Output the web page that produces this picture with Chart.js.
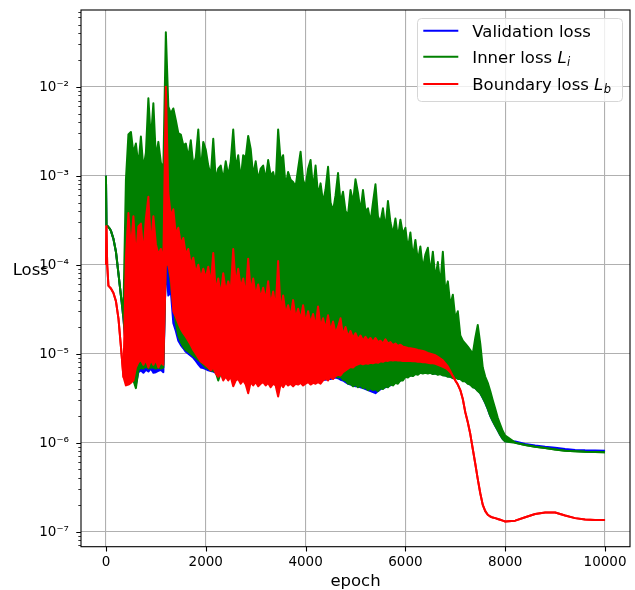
<!DOCTYPE html>
<html>
<head>
<meta charset="utf-8">
<title>Loss curves</title>
<script src="https://cdn.jsdelivr.net/npm/chart.js@4.4.1/dist/chart.umd.min.js"></script>
<style>
  html, body { margin: 0; padding: 0; background: #fff; }
  #wrap { position: relative; width: 635px; height: 590px; }
  canvas { display: block; }
</style>
</head>
<body>
<div id="wrap"><canvas id="loss" width="635" height="590"></canvas></div>
<script>
/* Training loss curves (validation / inner / boundary) on a log axis. */
"use strict";

// epoch grid shared by every series
const epochs = [
  0, 10, 25, 50, 75,
  100, 150, 200, 250, 300, 350, 400, 450, 500, 550,
  600, 650, 700, 750, 800, 850, 900, 950, 1000, 1050,
  1100, 1150, 1200, 1250, 1300, 1350, 1400, 1450, 1500, 1550,
  1600, 1650, 1700, 1750, 1800, 1850, 1900, 1950, 2000, 2050,
  2100, 2150, 2200, 2250, 2300, 2350, 2400, 2450, 2500, 2550,
  2600, 2650, 2700, 2750, 2800, 2850, 2900, 2950, 3000, 3050,
  3100, 3150, 3200, 3250, 3300, 3350, 3400, 3450, 3500, 3550,
  3600, 3650, 3700, 3750, 3800, 3850, 3900, 3950, 4000, 4050,
  4100, 4150, 4200, 4250, 4300, 4350, 4400, 4450, 4500, 4550,
  4600, 4650, 4700, 4750, 4800, 4850, 4900, 4950, 5000, 5050,
  5100, 5150, 5200, 5250, 5300, 5350, 5400, 5450, 5500, 5550,
  5600, 5650, 5700, 5750, 5800, 5850, 5900, 5950, 6000, 6050,
  6100, 6150, 6200, 6250, 6300, 6350, 6400, 6450, 6500, 6550,
  6600, 6650, 6700, 6750, 6800, 6850, 6900, 6950, 7000, 7050,
  7100, 7150, 7200, 7250, 7300, 7350, 7400, 7450, 7500, 7550,
  7600, 7650, 7700, 7750, 7800, 7850, 7900, 7950, 8000,
  8200, 8400, 8600, 8800, 9000, 9200, 9400, 9600, 9800, 10000,
];

// inner loss L_i : upper / lower envelope of the noisy trace
const innerHi = [
  1e-3, 2.8e-4, 2.75e-4, 2.65e-4, 2.55e-4,
  2.4e-4, 1.95e-4, 1.4e-4, 8e-5, 4.5e-5, 3e-5, 9e-4, 2.9e-3, 3.1e-3, 1.8e-3,
  2.3e-3, 1.3e-3, 2.75e-3, 1.2e-3, 1.8e-3, 7.4e-3, 2.5e-3, 6.5e-3, 1.6e-3, 2.4e-3,
  1.4e-3, 1.2e-3, 4.1e-2, 6e-3, 5e-3, 5.7e-3, 4.2e-3, 3e-3, 2.9e-3, 2.2e-3,
  2.3e-3, 1.6e-3, 2.5e-3, 1.3e-3, 1.6e-3, 3.3e-3, 1.1e-3, 2.4e-3, 1.95e-3, 1.3e-3,
  1e-3, 2.6e-3, 9e-4, 1.2e-3, 1.3e-3, 9e-4, 1.45e-3, 1e-3, 1.45e-3, 3.3e-3,
  1.2e-3, 1.7e-3, 9e-4, 1.7e-3, 1.6e-3, 2.8e-3, 2e-3, 1e-3, 1.45e-3, 9e-4,
  1.2e-3, 1.3e-3, 9e-4, 1.5e-3, 1e-3, 1.1e-3, 8e-4, 3.3e-3, 1.45e-3, 1.7e-3,
  7.6e-4, 1.1e-3, 9e-4, 8.5e-4, 7.5e-4, 1.2e-3, 1.86e-3, 9e-4, 7.5e-4, 1.2e-3,
  1.5e-3, 7e-4, 1.3e-3, 6e-4, 8.2e-4, 5e-4, 7e-4, 1.26e-3, 5e-4, 4e-4,
  6e-4, 1.07e-3, 5e-4, 6.6e-4, 4e-4, 3.6e-4, 6.9e-4, 5e-4, 9.1e-4, 6.4e-4,
  4e-4, 6.9e-4, 4e-4, 4.3e-4, 3e-4, 5e-4, 8e-4, 3.5e-4, 3e-4, 4.3e-4,
  2.5e-4, 5.2e-4, 3e-4, 2.2e-4, 3.3e-4, 2e-4, 3.2e-4, 2.2e-4, 2.6e-4, 1.5e-4,
  2.3e-4, 1.2e-4, 1.9e-4, 1.1e-4, 1.6e-4, 9e-5, 1.3e-4, 1.55e-4, 8e-5, 1.4e-4,
  7e-5, 1.07e-4, 6e-5, 1.4e-4, 5e-5, 6.5e-5, 3.5e-5, 4.6e-5, 2.5e-5, 3e-5,
  1.6e-5, 1.4e-5, 1.3e-5, 1.2e-5, 1.1e-5, 1e-5, 1.5e-5, 2.1e-5, 1.3e-5, 7e-6,
  5.5e-6, 4.7e-6, 3.8e-6, 3e-6, 2.4e-6, 1.9e-6, 1.6e-6, 1.35e-6, 1.2e-6,
  1e-6, 9.4e-7, 9e-7, 8.7e-7, 8.4e-7, 8.1e-7, 8e-7, 7.9e-7, 7.85e-7, 7.8e-7,
];
const innerLo = [
  1e-3, 2.8e-4, 2.75e-4, 2.65e-4, 2.55e-4,
  2.4e-4, 1.95e-4, 1.4e-4, 8e-5, 4.5e-5, 2.5e-5, 1.2e-5, 8.5e-6, 6.3e-6, 5e-6,
  4.1e-6, 6.5e-6, 7e-6, 6.8e-6, 7.2e-6, 6.8e-6, 7e-6, 7e-6, 6.8e-6, 7e-6,
  6.8e-6, 7e-6, 1e-4, 1e-4, 6e-5, 3.5e-5, 2.2e-5, 1.6e-5, 1.35e-5, 1.2e-5,
  1.1e-5, 1.05e-5, 1e-5, 9.5e-6, 9e-6, 8.5e-6, 8e-6, 7.5e-6, 7e-6, 6.8e-6,
  6.5e-6, 6.4e-6, 6.2e-6, 5e-6, 6e-6, 5.8e-6, 5.8e-6, 5.8e-6, 5.8e-6, 5.8e-6,
  5.8e-6, 5.8e-6, 5.8e-6, 5.8e-6, 5.8e-6, 5.8e-6, 5.8e-6, 5.8e-6, 5.8e-6, 5.8e-6,
  5.8e-6, 5.8e-6, 5.8e-6, 5.8e-6, 5.8e-6, 5.8e-6, 5.8e-6, 5.8e-6, 5.8e-6, 5.8e-6,
  5.8e-6, 5.8e-6, 5.8e-6, 5.8e-6, 5.8e-6, 5.8e-6, 5.8e-6, 5.8e-6, 5.7e-6, 5.7e-6,
  5.6e-6, 5.5e-6, 5.4e-6, 5.3e-6, 5.2e-6, 5.2e-6, 5.3e-6, 5.4e-6, 5.5e-6, 5.6e-6,
  5.7e-6, 5.4e-6, 5.5e-6, 5.1e-6, 5e-6, 4.6e-6, 4.6e-6, 4.3e-6, 4.5e-6, 4.2e-6,
  4.4e-6, 4.1e-6, 4.2e-6, 3.9e-6, 4.1e-6, 3.9e-6, 4e-6, 3.8e-6, 4.1e-6, 4e-6,
  4.3e-6, 4.2e-6, 4.5e-6, 4.4e-6, 4.7e-6, 4.6e-6, 5e-6, 5e-6, 5.5e-6, 5.4e-6,
  5.7e-6, 5.6e-6, 5.9e-6, 5.8e-6, 6.1e-6, 6e-6, 6.1e-6, 6e-6, 6.1e-6, 5.9e-6,
  6e-6, 5.8e-6, 5.9e-6, 5.7e-6, 5.7e-6, 5.5e-6, 5.5e-6, 5.3e-6, 5.4e-6, 5.2e-6,
  5.2e-6, 4.9e-6, 4.9e-6, 4.6e-6, 4.5e-6, 4.2e-6, 4.1e-6, 3.8e-6, 3.6e-6, 3.2e-6,
  2.8e-6, 2.4e-6, 2e-6, 1.75e-6, 1.55e-6, 1.38e-6, 1.22e-6, 1.1e-6, 1.03e-6,
  1e-6, 9.4e-7, 9e-7, 8.7e-7, 8.4e-7, 8.1e-7, 8e-7, 7.9e-7, 7.85e-7, 7.8e-7,
];

// boundary loss L_b : upper / lower envelope
const boundHi = [
  1e-4, 2.7e-4, 1e-4, 5.8e-5, 5.6e-5,
  5.4e-5, 4.8e-5, 3.9e-5, 2.5e-5, 1.2e-5, 5.5e-6, 1.2e-4, 3.8e-4, 1.5e-4, 3.5e-4,
  1.2e-4, 2.7e-4, 2.9e-4, 1.3e-4, 3.3e-4, 5.8e-4, 1.6e-4, 3.5e-4, 1.7e-4, 1.3e-4,
  1.5e-4, 1.1e-4, 1e-2, 6.4e-4, 3.5e-4, 4.2e-4, 2.2e-4, 2.6e-4, 1.7e-4, 2e-4,
  1.3e-4, 1.5e-4, 1e-4, 1.2e-4, 8e-5, 1e-4, 7e-5, 9e-5, 7e-5, 9.5e-5,
  6e-5, 1.35e-4, 5e-5, 7e-5, 4.5e-5, 8e-5, 5e-5, 6.5e-5, 5e-5, 1.5e-4,
  6e-5, 9e-5, 5.5e-5, 7e-5, 4.5e-5, 1.17e-4, 5e-5, 7e-5, 4.5e-5, 6e-5,
  4.2e-5, 5.5e-5, 4e-5, 6.5e-5, 3.5e-5, 5e-5, 3.2e-5, 1.1e-4, 3e-5, 4.5e-5,
  2.8e-5, 3.5e-5, 2.6e-5, 4e-5, 2.5e-5, 3.2e-5, 2.4e-5, 3.5e-5, 2.2e-5, 3e-5,
  2.2e-5, 2.8e-5, 2e-5, 3.4e-5, 2e-5, 2.5e-5, 1.9e-5, 2.7e-5, 1.8e-5, 2.3e-5,
  1.7e-5, 2e-5, 2.5e-5, 1.6e-5, 2e-5, 1.55e-5, 1.8e-5, 1.5e-5, 1.7e-5, 1.45e-5,
  1.6e-5, 1.4e-5, 1.55e-5, 1.4e-5, 1.5e-5, 1.35e-5, 1.5e-5, 1.35e-5, 1.4e-5, 1.3e-5,
  1.45e-5, 1.3e-5, 1.35e-5, 1.25e-5, 1.3e-5, 1.22e-5, 1.26e-5, 1.2e-5, 1.18e-5, 1.16e-5,
  1.15e-5, 1.14e-5, 1.12e-5, 1.1e-5, 1.09e-5, 1.07e-5, 1.05e-5, 1.02e-5, 1e-5, 9.8e-6,
  9.6e-6, 9.2e-6, 8.8e-6, 8.4e-6, 7.8e-6, 7.2e-6, 6.4e-6, 5.6e-6, 5e-6, 4.5e-6,
  3.9e-6, 3.1e-6, 2.2e-6, 1.7e-6, 1.25e-6, 8.5e-7, 5.8e-7, 3.9e-7, 2.7e-7, 2e-7,
  1.7e-7, 1.55e-7, 1.48e-7, 1.44e-7, 1.42e-7, 1.39e-7, 1.36e-7, 1.33e-7, 1.3e-7,
  1.33e-7, 1.45e-7, 1.58e-7, 1.64e-7, 1.64e-7, 1.52e-7, 1.42e-7, 1.37e-7, 1.35e-7, 1.35e-7,
];
const boundLo = [
  1e-4, 2.7e-4, 1e-4, 5.8e-5, 5.6e-5,
  5.4e-5, 4.8e-5, 3.9e-5, 2.5e-5, 1.2e-5, 5.5e-6, 4.4e-6, 4.5e-6, 4.7e-6, 5e-6,
  7e-6, 8e-6, 8.5e-6, 7.5e-6, 8.5e-6, 7e-6, 8.5e-6, 7.5e-6, 8.5e-6, 7e-6,
  8e-6, 7.5e-6, 1e-4, 1e-4, 7e-5, 3e-5, 2.6e-5, 2.2e-5, 1.9e-5, 1.7e-5,
  1.55e-5, 1.4e-5, 1.25e-5, 1.1e-5, 1e-5, 9e-6, 8.2e-6, 7.8e-6, 7.4e-6, 7e-6,
  6.5e-6, 7e-6, 6e-6, 5.5e-6, 6e-6, 5e-6, 5.5e-6, 5e-6, 5.5e-6, 4.3e-6,
  5e-6, 5.2e-6, 4.6e-6, 5e-6, 4.5e-6, 3.6e-6, 4.8e-6, 4.4e-6, 4.8e-6, 4.3e-6,
  4.6e-6, 4.8e-6, 4.4e-6, 4.7e-6, 4.2e-6, 4.6e-6, 4.4e-6, 3.3e-6, 4.6e-6, 4.2e-6,
  4.7e-6, 4.4e-6, 4.6e-6, 4.3e-6, 4.6e-6, 4.5e-6, 4.7e-6, 4.4e-6, 4.6e-6, 4.8e-6,
  4.5e-6, 4.7e-6, 4.6e-6, 4.8e-6, 4.6e-6, 5e-6, 5.3e-6, 5e-6, 5.5e-6, 5.2e-6,
  5.6e-6, 5.8e-6, 5.7e-6, 6.2e-6, 6.5e-6, 6.8e-6, 7.1e-6, 7e-6, 7.4e-6, 7.6e-6,
  7.8e-6, 7.6e-6, 7.8e-6, 7.7e-6, 7.9e-6, 7.8e-6, 8e-6, 7.9e-6, 8.2e-6, 8.1e-6,
  8.4e-6, 8.3e-6, 8.5e-6, 8.4e-6, 8.5e-6, 8.4e-6, 8.4e-6, 8.3e-6, 8.3e-6, 8.3e-6,
  8.3e-6, 8.2e-6, 8.2e-6, 8.1e-6, 8.1e-6, 8e-6, 8e-6, 7.9e-6, 7.8e-6, 7.8e-6,
  7.7e-6, 7.5e-6, 7.3e-6, 7.1e-6, 6.9e-6, 6.6e-6, 6.2e-6, 5.6e-6, 5e-6, 4.5e-6,
  3.9e-6, 3.1e-6, 2.2e-6, 1.7e-6, 1.25e-6, 8.5e-7, 5.8e-7, 3.9e-7, 2.7e-7, 2e-7,
  1.7e-7, 1.55e-7, 1.48e-7, 1.44e-7, 1.42e-7, 1.39e-7, 1.36e-7, 1.33e-7, 1.3e-7,
  1.33e-7, 1.45e-7, 1.58e-7, 1.64e-7, 1.64e-7, 1.52e-7, 1.42e-7, 1.37e-7, 1.35e-7, 1.35e-7,
];

// validation loss: only its lower edge shows from under the other two
const validLo = [
  1e-3, 2.8e-4, 2.75e-4, 2.65e-4, 2.55e-4,
  2.4e-4, 1.95e-4, 1.4e-4, 8e-5, 4.5e-5, 2.5e-5, 1.2e-5, 8.5e-6, 6.3e-6, 5.2e-6,
  4.5e-6, 6.2e-6, 6.5e-6, 6.1e-6, 6.6e-6, 6.3e-6, 6.8e-6, 6.1e-6, 6.2e-6, 6.4e-6,
  6.6e-6, 6.2e-6, 1e-4, 4.5e-5, 5e-5, 2.2e-5, 1.8e-5, 1.4e-5, 1.25e-5, 1.15e-5,
  1.05e-5, 1e-5, 9.5e-6, 9e-6, 8.3e-6, 7.6e-6, 7e-6, 6.9e-6, 6.7e-6, 6.5e-6,
  6.4e-6, 6.3e-6, 6.1e-6, 5.5e-6, 5.8e-6, 5.6e-6, 5.5e-6, 5.8e-6, 5.8e-6, 5.8e-6,
  5.8e-6, 5.8e-6, 5.8e-6, 5.8e-6, 5.8e-6, 5.8e-6, 5.8e-6, 5.8e-6, 5.8e-6, 5.8e-6,
  5.8e-6, 5.8e-6, 5.8e-6, 5.8e-6, 5.8e-6, 5.8e-6, 5.8e-6, 5.8e-6, 5.8e-6, 5.8e-6,
  5.8e-6, 5.8e-6, 5.8e-6, 5.8e-6, 5.8e-6, 5.8e-6, 5.8e-6, 5.8e-6, 5.7e-6, 5.7e-6,
  5.6e-6, 5.5e-6, 5.4e-6, 5.3e-6, 5.2e-6, 5.1e-6, 5.1e-6, 5.2e-6, 5.2e-6, 5.3e-6,
  5.4e-6, 5.3e-6, 5.1e-6, 5e-6, 4.8e-6, 4.6e-6, 4.5e-6, 4.4e-6, 4.3e-6, 4.3e-6,
  4.2e-6, 4.1e-6, 4e-6, 3.9e-6, 3.8e-6, 3.7e-6, 3.6e-6, 3.8e-6, 4e-6, 4.1e-6,
  4.2e-6, 4.3e-6, 4.4e-6, 4.6e-6, 4.7e-6, 4.9e-6, 5e-6, 5.3e-6, 5.5e-6, 5.6e-6,
  5.7e-6, 5.8e-6, 5.9e-6, 6e-6, 6.1e-6, 6.1e-6, 6.1e-6, 6.1e-6, 6.1e-6, 6e-6,
  6e-6, 5.9e-6, 5.9e-6, 5.8e-6, 5.7e-6, 5.6e-6, 5.5e-6, 5.4e-6, 5.4e-6, 5.3e-6,
  5.2e-6, 5e-6, 4.9e-6, 4.7e-6, 4.5e-6, 4.3e-6, 4.1e-6, 3.9e-6, 3.6e-6, 3.2e-6,
  2.8e-6, 2.4e-6, 2e-6, 1.75e-6, 1.55e-6, 1.38e-6, 1.22e-6, 1.1e-6, 1.04e-6,
  1.03e-6, 9.7e-7, 9.3e-7, 9e-7, 8.8e-7, 8.5e-7, 8.3e-7, 8.2e-7, 8.15e-7, 8.1e-7,
];

const xTicks = [0, 2000, 4000, 6000, 8000, 10000];
const yTicks = [1e-7, 1e-6, 1e-5, 1e-4, 1e-3, 1e-2];
const yTickLabels = ["10⁻⁷", "10⁻⁶", "10⁻⁵", "10⁻⁴", "10⁻³", "10⁻²"];
const legendNames = [
  ["Validation loss", "", ""],
  ["Inner loss ", "L", "i"],
  ["Boundary loss ", "L", "b"],
];

(() => {
  const BLUE = "#0000ff", GREEN = "#008000", RED = "#ff0000";
  const FONT = "'DejaVu Sans', sans-serif";
  const Y_MIN = 6.78e-8, Y_MAX = 7.28e-2;

  Chart.defaults.font.family = FONT;
  Chart.defaults.color = "#000";

  const pts = (arr) => epochs.map((x, i) => ({ x, y: arr[i] }));
  const trace = (arr, color, order, fill) => ({
    data: pts(arr), borderColor: color, backgroundColor: color,
    borderWidth: 2, pointRadius: 0, tension: 0,
    borderJoinStyle: "round", fill, order,
  });

  /* ---------- frame, minor ticks, axis titles, legend ---------- */
  const decor = {
    id: "decor",
    afterDatasetsDraw(chart) {
      const { ctx, chartArea: a, scales: { x, y } } = chart;
      ctx.save();
      ctx.strokeStyle = "#000";
      ctx.lineWidth = 1.1;
      ctx.strokeRect(a.left, a.top, a.right - a.left, a.bottom - a.top);

      ctx.beginPath();
      xTicks.forEach((v) => {
        const px = Math.round(x.getPixelForValue(v)) + 0.5;
        ctx.moveTo(px, a.bottom); ctx.lineTo(px, a.bottom + 4.7);
      });
      yTicks.forEach((v) => {
        const py = Math.round(y.getPixelForValue(v)) + 0.5;
        ctx.moveTo(a.left - 4.7, py); ctx.lineTo(a.left, py);
      });
      ctx.stroke();

      ctx.beginPath();
      ctx.lineWidth = 0.8;
      for (let e = -8; e <= -2; e++) {
        for (let m = 2; m <= 9; m++) {
          const v = m * Math.pow(10, e);
          if (v < Y_MIN || v > Y_MAX) continue;
          const py = Math.round(y.getPixelForValue(v)) + 0.5;
          ctx.moveTo(a.left - 2.7, py); ctx.lineTo(a.left, py);
        }
      }
      ctx.stroke();
      ctx.restore();
    },
    afterDraw(chart) {
      const { ctx, chartArea: a } = chart;
      ctx.save();
      ctx.fillStyle = "#000";
      ctx.font = `16.5px ${FONT}`;
      ctx.textBaseline = "alphabetic";
      ctx.textAlign = "left";
      ctx.fillText("Loss", 12.7, 275);
      ctx.textAlign = "center";
      ctx.fillText("epoch", (a.left + a.right) / 2, 585.5);

      // legend box
      const bx = 417.5, by = 18.5, bw = 205, bh = 83, r = 4;
      ctx.beginPath();
      ctx.moveTo(bx + r, by);
      ctx.arcTo(bx + bw, by, bx + bw, by + bh, r);
      ctx.arcTo(bx + bw, by + bh, bx, by + bh, r);
      ctx.arcTo(bx, by + bh, bx, by, r);
      ctx.arcTo(bx, by, bx + bw, by, r);
      ctx.closePath();
      ctx.fillStyle = "rgba(255,255,255,0.8)";
      ctx.fill();
      ctx.strokeStyle = "#d6d6d6";
      ctx.lineWidth = 1;
      ctx.stroke();

      const colors = [BLUE, GREEN, RED];
      const rowY = [30.7, 56.7, 84];
      ctx.textAlign = "left";
      legendNames.forEach(([txt, sym, sub], i) => {
        const ly = rowY[i];
        ctx.strokeStyle = colors[i];
        ctx.lineWidth = 2;
        ctx.beginPath(); ctx.moveTo(423.3, ly); ctx.lineTo(458.3, ly); ctx.stroke();
        ctx.fillStyle = "#000";
        ctx.font = `16.5px ${FONT}`;
        let tx = 472.3;
        const base = ly + 5.9;
        ctx.fillText(txt, tx, base);
        tx += ctx.measureText(txt).width;
        if (sym) {
          ctx.font = `italic 16.5px ${FONT}`;
          ctx.fillText(sym, tx, base);
          tx += ctx.measureText(sym).width;
          ctx.font = `italic 11.5px ${FONT}`;
          ctx.fillText(sub, tx + 0.5, base + 3.5);
        }
      });
      ctx.restore();
    },
  };

  new Chart(document.getElementById("loss").getContext("2d"), {
    type: "line",
    data: {
      datasets: [
        trace(boundHi, RED, 0, "+1"),
        trace(boundLo, RED, 0, false),
        trace(innerHi, GREEN, 1, "+1"),
        trace(innerLo, GREEN, 1, false),
        trace(validLo, BLUE, 2, 3),
      ],
    },
    options: {
      responsive: false, animation: false, events: [],
      layout: { padding: { top: 10, right: 5, left: 0, bottom: 0 } },
      plugins: { legend: { display: false }, tooltip: { enabled: false } },
      scales: {
        x: {
          type: "linear", min: -500, max: 10500,
          afterBuildTicks: (s) => { s.ticks = xTicks.map((v) => ({ value: v })); },
          afterFit: (s) => { s.height = 43.3; s.paddingLeft = 0; s.paddingRight = 0; },
          ticks: {
            callback: (v) => String(v), font: { size: 13.5 }, color: "#000",
            padding: 8, maxRotation: 0, autoSkip: false,
          },
          grid: { color: "#b0b0b0", lineWidth: 1.1, drawTicks: false },
          border: { display: false },
        },
        y: {
          type: "logarithmic", min: Y_MIN, max: Y_MAX,
          afterBuildTicks: (s) => { s.ticks = yTicks.map((v) => ({ value: v })); },
          afterFit: (s) => { s.width = 81; s.paddingTop = 0; s.paddingBottom = 0; },
          ticks: {
            callback: (v) => { const i = yTicks.indexOf(v); return i < 0 ? "" : yTickLabels[i]; },
            font: { size: 13.5 }, color: "#000", padding: 12, autoSkip: false, labelOffset: 1,
          },
          grid: { color: "#b0b0b0", lineWidth: 1.1, drawTicks: false },
          border: { display: false },
        },
      },
    },
    plugins: [decor],
  });
})();
</script>
</body>
</html>
